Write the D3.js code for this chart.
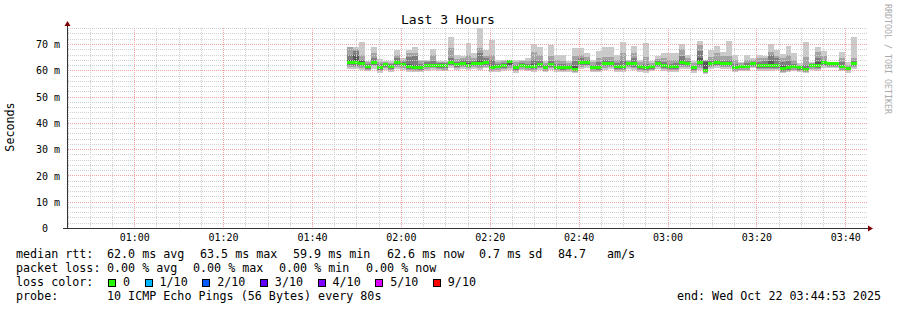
<!DOCTYPE html>
<html><head><meta charset="utf-8">
<script src="https://cdn.jsdelivr.net/npm/d3@7"></script>
<style>
html,body{margin:0;padding:0;background:#fff;}
svg{display:block;}
text{font-family:"DejaVu Sans Mono",monospace;white-space:pre;}
</style></head><body>
<script>
// ---------- data ----------
const title = "Last 3 Hours";
const yLabel = "Seconds";
const watermark = "RRDTOOL / TOBI OETIKER";
const rangeStart = Date.UTC(2025, 9, 22, 0, 44, 53);
const rangeEnd   = Date.UTC(2025, 9, 22, 3, 44, 53);
const firstStep  = Date.UTC(2025, 9, 22, 1, 47, 53);
const stepSeconds = 80;
const yMaxMs = 76.09;
const yLabelTicks = [0, 10, 20, 30, 40, 50, 60, 70];

const median = [63.0,63.0,62.6,61.5,63.0,61.1,62.2,61.5,63.0,62.2,
61.5,61.1,61.1,61.9,61.9,61.9,61.9,63.0,62.2,62.6,
61.9,62.6,62.6,63.0,61.1,61.5,61.9,63.4,61.1,61.9,
61.5,61.5,62.2,61.1,62.2,61.1,61.1,61.1,60.3,63.0,
63.0,61.1,61.1,62.4,62.4,61.3,61.3,62.4,62.4,61.3,
60.9,61.3,62.6,61.7,61.3,61.3,63.1,62.5,60.9,63.1,
59.9,62.4,63.1,62.6,62.6,61.2,61.5,61.5,62.6,61.7,
61.7,61.7,61.7,60.6,60.9,61.6,60.9,60.3,61.9,61.9,
62.9,62.4,62.4,61.6,60.6,62.6];
const pingMax = [68.9,68.9,70.7,63.5,69.0,64.3,63.6,63.6,67.9,64.6,
67.7,68.9,64.1,64.1,68.2,63.6,63.6,72.5,65.7,65.4,
70.2,66.7,76.0,67.7,71.7,64.1,64.1,64.1,64.1,64.1,
64.5,70.0,68.7,63.6,69.7,65.7,65.7,63.6,68.4,68.4,
66.7,64.1,67.4,68.7,68.7,65.7,70.7,64.1,69.2,64.1,
70.2,63.6,65.4,66.7,66.4,66.4,70.0,65.9,63.6,71.2,
64.1,67.7,69.2,66.9,71.2,65.9,63.1,65.9,64.6,65.9,
65.4,70.0,67.7,66.2,69.2,66.7,62.9,70.7,63.1,68.7,
67.2,62.9,62.9,66.9,63.1,72.5];
const ping9 = [68.9,68.0,66.0,63.0,66.5,63.0,63.2,62.8,66.0,63.8,
66.4,66.5,63.4,63.6,66.0,63.0,63.2,68.5,64.4,64.6,
66.0,64.5,68.5,65.5,66.0,63.2,63.4,63.9,63.0,63.5,
63.5,67.0,66.0,62.8,65.5,64.0,63.5,62.8,65.5,65.9,
65.0,63.0,64.5,65.0,65.0,64.0,66.5,63.4,66.7,63.0,
65.0,62.6,64.3,64.5,64.0,64.0,68.0,64.8,62.6,69.5,
63.8,65.0,66.7,65.5,65.5,63.8,62.6,64.0,64.0,64.5,
64.5,67.0,65.5,64.5,66.0,64.0,62.0,65.0,62.6,67.0,
65.5,62.8,62.8,64.5,62.0,64.5];
const ping8 = [66.0,67.4,64.0,62.5,64.5,62.3,62.9,62.3,64.5,63.2,
65.0,65.4,62.4,63.0,63.5,62.6,62.8,64.5,63.3,63.8,
63.5,63.7,66.5,64.5,64.0,62.5,62.9,63.7,62.2,62.8,
62.5,64.0,63.5,62.0,63.5,62.5,62.3,62.0,63.5,64.6,
64.0,62.2,63.0,63.8,63.5,62.8,64.0,62.9,64.8,62.2,
62.5,62.0,63.5,63.0,62.5,62.8,65.5,63.5,61.8,67.5,
63.5,63.5,64.0,63.5,63.8,62.4,62.2,62.7,63.3,63.0,
63.5,65.8,64.5,63.0,63.5,62.5,61.5,62.0,62.3,64.5,
64.0,62.7,62.7,63.0,61.4,63.5];
const ping7 = [64.0,65.9,63.5,62.0,63.6,61.8,62.6,61.9,63.6,62.7,
62.4,62.2,61.7,62.4,62.5,62.3,62.4,63.6,62.7,63.1,
62.6,63.1,64.0,63.6,62.0,62.0,62.4,63.6,61.6,62.3,
62.0,62.3,62.8,61.6,62.8,61.7,61.6,61.5,61.5,63.6,
63.5,61.6,61.8,62.9,62.9,61.9,62.0,62.7,63.2,61.8,
61.5,61.6,63.0,62.2,61.8,61.9,64.0,63.0,61.3,64.5,
63.0,62.9,63.5,63.0,63.1,61.7,61.9,62.0,63.0,62.2,
62.5,63.5,62.5,61.5,61.8,62.0,61.2,61.0,62.1,63.0,
63.4,62.6,62.6,62.0,61.0,63.0];
const ping4 = [62.5,62.4,62.1,61.1,62.6,60.7,61.8,61.0,62.5,61.9,
61.1,60.8,60.7,61.5,61.6,61.5,61.4,62.6,61.8,62.2,
61.6,62.2,62.1,62.5,60.8,61.1,61.5,62.2,60.7,61.5,
61.2,61.1,61.8,60.8,61.8,60.8,60.7,60.8,60.0,62.5,
62.6,60.8,60.7,62.0,62.0,60.9,61.0,62.0,61.9,60.9,
60.6,61.0,62.2,61.3,60.9,61.0,62.6,62.1,60.6,62.4,
59.6,62.0,62.7,62.2,62.2,60.8,61.1,61.2,62.2,61.3,
61.4,61.3,61.4,60.3,60.6,61.2,60.6,60.0,61.5,61.5,
62.5,62.1,62.1,61.2,60.3,62.2];
const ping3 = [62.0,61.8,61.6,60.6,62.1,60.2,61.3,60.6,61.9,61.5,
60.6,60.4,60.3,61.1,61.2,61.0,60.9,62.1,61.4,61.7,
61.2,61.8,61.6,62.0,60.4,60.7,61.0,61.5,60.3,61.1,
60.8,60.6,61.3,60.4,61.4,60.4,60.3,60.5,59.7,62.0,
62.1,60.4,60.3,61.5,61.6,60.5,60.6,61.6,61.4,60.5,
60.2,60.6,61.7,60.9,60.5,60.6,62.0,61.6,60.2,61.7,
59.3,61.6,62.2,61.8,61.7,60.4,60.7,60.8,61.8,60.9,
61.0,60.9,61.0,59.9,60.2,60.8,60.3,59.7,61.1,61.0,
62.0,61.7,61.8,60.8,60.0,61.7];
const ping2 = [61.3,61.1,61.0,60.2,61.5,59.6,60.7,60.1,61.2,61.0,
60.1,59.9,59.8,60.6,60.8,60.5,60.3,61.5,60.9,61.2,
60.7,61.3,61.0,61.4,59.9,60.2,60.5,60.9,59.8,60.6,
60.3,60.1,60.8,59.9,60.9,60.0,59.8,60.0,59.3,61.4,
61.6,59.9,59.8,61.0,61.1,60.0,60.1,61.1,60.8,60.0,
59.7,60.2,61.2,60.4,60.0,60.1,61.4,61.1,59.7,61.0,
58.9,61.1,61.6,61.3,61.2,59.9,60.2,60.3,61.3,60.4,
60.5,60.4,60.6,59.5,59.8,60.3,59.9,59.3,60.6,60.5,
61.5,61.3,61.4,60.3,59.6,61.2];
const pingMin = [60.6,60.5,60.2,59.6,60.6,59.0,60.1,59.5,60.4,60.3,
59.4,59.2,59.2,59.9,60.1,59.8,59.6,60.8,60.2,60.6,
60.0,60.5,60.2,60.7,59.3,59.5,59.9,60.2,59.1,60.0,
59.7,59.4,60.2,59.3,60.3,59.4,59.2,59.5,58.8,60.6,
60.9,59.3,59.2,60.3,60.5,59.4,59.5,60.4,60.1,59.4,
59.1,59.6,60.5,59.8,59.4,59.5,60.6,60.4,59.1,60.2,
58.4,60.4,60.9,60.6,60.5,59.3,59.6,59.7,60.7,59.8,
59.9,59.8,60.0,59.0,59.2,59.7,59.4,58.8,60.0,59.8,
60.8,60.7,60.8,59.7,59.0,60.5];

const medianLegend = ["median rtt:", "62.0 ms avg", "63.5 ms max", "59.9 ms min", "62.6 ms now", "0.7 ms sd", "84.7", "am/s"];
const lossLegend = ["packet loss:", "0.00 % avg", "0.00 % max", "0.00 % min", "0.00 % now"];
const lossColorTitle = "loss color:";
const lossLabels = ["0", "1/10", "2/10", "3/10", "4/10", "5/10", "9/10"];
const lossColors = ["#26ff00", "#00b8ff", "#0059ff", "#5e00ff", "#7e00ff", "#dd00ff", "#ff0000"];
const probeLegend = ["probe:", "10 ICMP Echo Pings (56 Bytes) every 80s"];
const endLegend = "end: Wed Oct 22 03:44:53 2025";

// ---------- drawing ----------
const W = 897, H = 310;
const L = 67, R = 867, B = 228, T = 28;
const svg = d3.select("body").append("svg").attr("width", W).attr("height", H);
svg.append("rect").attr("width", W).attr("height", H).attr("fill", "#fff");

const minorCol = "#cfcfcf", majorCol = "#f4a0a0";
const defs = svg.append("defs");
function dotPattern(id, col, vertical) {
  const p = defs.append("pattern").attr("id", id).attr("patternUnits", "userSpaceOnUse")
    .attr("x", 0).attr("y", 0)
    .attr("width", vertical ? 1 : 2).attr("height", vertical ? 2 : 1);
  p.append("rect").attr("width", 1).attr("height", 1).attr("fill", col);
}
dotPattern("hMinorDots", minorCol, false);
dotPattern("vMinorDots", minorCol, true);
dotPattern("hMajorDots", majorCol, false);
dotPattern("vMajorDots", majorCol, true);

const x = d3.scaleUtc().domain([rangeStart, rangeEnd]).range([L, R]);
const y = d3.scaleLinear().domain([0, yMaxMs]).range([B, T]);

const steps = median.map((m, i) => ({
  i,
  t0: new Date(firstStep + i * stepSeconds * 1000),
  t1: new Date(firstStep + (i + 1) * stepSeconds * 1000)
}));

const plot = svg.append("g").attr("shape-rendering", "crispEdges");
const bands = [
  [pingMin, pingMax, "#cacaca"],
  [ping2, ping9, "#a4a4a4"],
  [ping3, ping8, "#7e7e7e"],
  [ping4, ping7, "#585858"]
];
bands.forEach(([lo, hi, col]) => {
  plot.append("g").selectAll("rect").data(steps).join("rect")
    .attr("x", d => Math.round(x(d.t0)))
    .attr("width", d => Math.round(x(d.t1)) - Math.round(x(d.t0)))
    .attr("y", d => Math.round(y(hi[d.i])))
    .attr("height", d => Math.max(0, Math.round(y(lo[d.i])) - Math.round(y(hi[d.i]))))
    .attr("fill", col);
});
// median coloured by loss (all 0 loss)
plot.append("g").selectAll("rect").data(steps).join("rect")
  .attr("x", d => Math.round(x(d.t0)))
  .attr("width", d => Math.round(x(d.t1)) - Math.round(x(d.t0)))
  .attr("y", d => Math.round(y(median[d.i]) - 1.5))
  .attr("height", 3)
  .attr("fill", lossColors[0]);

// grid (on top, like rrdtool), dotted via 1px patterns
const majorT = x.ticks(d3.utcMinute.every(20));
const minorT = x.ticks(d3.utcMinute.every(5)).filter(t => t.getUTCMinutes() % 20 !== 0);
const hMinor = d3.range(2, yMaxMs, 2).filter(v => v % 10 !== 0);
const hMajor = yLabelTicks.filter(v => v > 0);
function hGrid(data, pat) {
  svg.append("g").attr("shape-rendering", "crispEdges").selectAll("rect").data(data).join("rect")
    .attr("x", L + 1).attr("width", R - L - 1)
    .attr("y", d => Math.round(y(d))).attr("height", 1)
    .attr("fill", `url(#${pat})`);
}
function vGrid(data, pat) {
  svg.append("g").attr("shape-rendering", "crispEdges").selectAll("rect").data(data).join("rect")
    .attr("x", d => Math.round(x(d))).attr("width", 1)
    .attr("y", T - 1).attr("height", B - T + 1)
    .attr("fill", `url(#${pat})`);
}
hGrid(hMinor, "hMinorDots");
vGrid(minorT, "vMinorDots");
hGrid(hMajor, "hMajorDots");
vGrid(majorT, "vMajorDots");

// axes lines + arrows
const axisCol = "#333";
svg.append("line").attr("x1", L - 4).attr("x2", R + 1).attr("y1", B + 0.5).attr("y2", B + 0.5)
  .attr("stroke", axisCol).attr("shape-rendering", "crispEdges");
svg.append("line").attr("x1", L + 0.5).attr("x2", L + 0.5).attr("y1", B + 1).attr("y2", T - 2)
  .attr("stroke", axisCol).attr("shape-rendering", "crispEdges");
svg.append("path").attr("d", `M${L - 2.5},${T - 2} L${L + 3.5},${T - 2} L${L + 0.5},${T - 7} Z`).attr("fill", "#7f0000");
svg.append("path").attr("d", `M${R + 1},${B - 2.5} L${R + 1},${B + 3.5} L${R + 6},${B + 0.5} Z`).attr("fill", "#7f0000");

// axis labels via d3 axes
const xAxis = d3.axisBottom(x).tickValues(majorT).tickFormat(d3.utcFormat("%H:%M")).tickSize(0);
svg.append("g").attr("transform", `translate(0,${B})`).call(xAxis)
  .call(g => g.select(".domain").remove())
  .call(g => g.selectAll("text").attr("y", 13).attr("dy", null)
    .attr("font-family", "DejaVu Sans Mono").attr("font-size", 10).attr("fill", "#000"));

const yAxis = d3.axisLeft(y).tickValues(yLabelTicks).tickFormat(v => v === 0 ? "0" : v + " m").tickSize(0);
svg.append("g").attr("transform", `translate(60,0)`).call(yAxis)
  .call(g => g.select(".domain").remove())
  .call(g => g.selectAll("text").attr("x", d => d === 0 ? -12 : 0).attr("dy", "0.36em")
    .attr("font-family", "DejaVu Sans Mono").attr("font-size", 10).attr("fill", "#000"));

// title
svg.append("text").attr("x", 448).attr("y", 24).attr("text-anchor", "middle")
  .attr("font-size", 13).attr("fill", "#000").text(title);
// y label
svg.append("text").attr("transform", "translate(14,127) rotate(-90)").attr("text-anchor", "middle")
  .attr("font-size", 11.7).attr("fill", "#000").text(yLabel);
// watermark
svg.append("text").attr("transform", "translate(885,4) rotate(90)")
  .attr("font-size", 8.3).attr("fill", "#aaaaaa").text(watermark);

// legend
const LF = 11.7;
const medX = [16, 107, 200, 293, 387, 479, 558, 607];
medianLegend.forEach((s, i) => svg.append("text").attr("x", medX[i]).attr("y", 258).attr("font-size", LF).text(s));
const lossX = [16, 107, 193, 279, 366];
lossLegend.forEach((s, i) => svg.append("text").attr("x", lossX[i]).attr("y", 272).attr("font-size", LF).text(s));
svg.append("text").attr("x", 16).attr("y", 286).attr("font-size", LF).text(lossColorTitle);
let bx = 108;
lossLabels.forEach((s, i) => {
  svg.append("rect").attr("x", bx + 0.5).attr("y", 279.5).attr("width", 7).attr("height", 7)
    .attr("fill", lossColors[i]).attr("stroke", "#000").attr("shape-rendering", "crispEdges");
  const t = svg.append("text").attr("x", bx + 15).attr("y", 286).attr("font-size", LF).text(s);
  bx = bx + 15 + t.node().getComputedTextLength() + 14.5;
});
svg.append("text").attr("x", 16).attr("y", 300).attr("font-size", LF).text(probeLegend[0]);
svg.append("text").attr("x", 107).attr("y", 300).attr("font-size", LF).text(probeLegend[1]);
svg.append("text").attr("x", 881).attr("y", 300).attr("text-anchor", "end").attr("font-size", LF).text(endLegend);
</script>
</body></html>
